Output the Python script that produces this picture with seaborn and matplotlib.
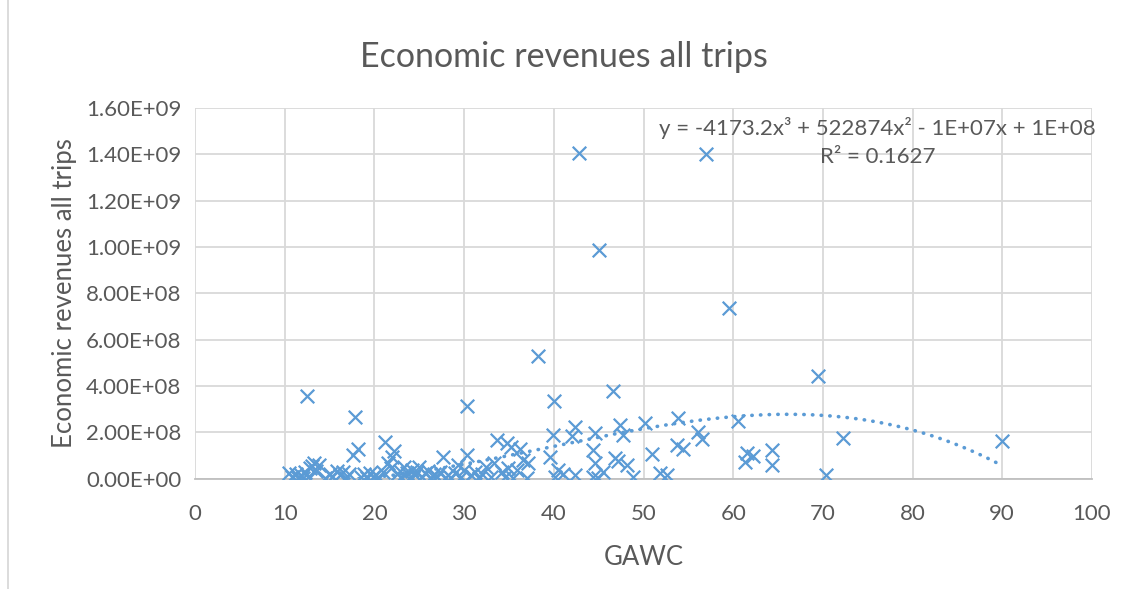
import numpy as np
import pandas as pd
import seaborn as sns
import matplotlib.pyplot as plt
from matplotlib.ticker import FuncFormatter, MultipleLocator
from matplotlib.lines import Line2D

# scatter points (GAWC, revenues)
gawc = [10.5, 10.8, 11.2, 11.5, 11.8, 12.0, 12.3, 12.5, 12.6, 12.8, 13.0, 13.2, 13.5, 13.8,
        14.5, 15.0, 15.3, 15.8, 16.2, 16.5, 16.8, 17.2, 17.6, 17.8, 18.2, 18.5, 18.8, 19.2,
        19.5, 19.8, 20.2, 20.5, 21.0, 21.2, 21.5, 21.8, 22.0, 22.2, 22.5, 22.8, 23.0, 23.3,
        23.6, 23.9, 24.2, 24.5, 24.7, 25.0, 25.3, 25.6, 26.0, 26.3, 26.6, 27.0, 27.3, 27.6,
        27.9, 28.2, 28.5, 29.0, 29.3, 29.6, 30.0, 30.3, 30.3, 30.8, 31.2, 31.6, 32.0, 32.4,
        33.0, 33.3, 33.7, 34.2, 34.6, 34.9, 34.8, 35.2, 35.5, 35.9, 36.2, 36.6, 37.0, 37.1,
        38.2, 39.6, 39.9, 40.0, 40.1, 40.5, 41.0, 42.0, 42.4, 42.4, 42.8, 44.4, 44.4, 44.6,
        44.6, 44.9, 45.0, 45.5, 46.6, 46.8, 47.2, 47.4, 47.7, 48.2, 48.8, 50.2, 51.0, 51.8,
        52.6, 53.7, 53.8, 54.4, 56.1, 56.5, 57.0, 59.5, 60.5, 61.3, 61.5, 62.2, 64.3, 64.3,
        69.5, 70.3, 72.2, 90.0]
revenue = [0.25e8, 0.10e8, 0.20e8, 0.05e8, 0.15e8, 0.02e8, 0.30e8, 3.58e8, 0.10e8, 0.47e8,
           0.55e8, 0.69e8, 0.35e8, 0.60e8, 0.05e8, 0.20e8, 0.10e8, 0.35e8, 0.15e8, 0.30e8,
           0.05e8, 0.20e8, 1.03e8, 2.65e8, 1.30e8, 0.10e8, 0.20e8, 0.05e8, 0.25e8, 0.10e8,
           0.15e8, 0.05e8, 0.30e8, 1.58e8, 0.70e8, 0.45e8, 0.95e8, 1.20e8, 0.20e8, 0.35e8,
           0.10e8, 0.50e8, 0.25e8, 0.05e8, 0.40e8, 0.15e8, 0.30e8, 0.50e8, 0.10e8, 0.25e8,
           0.35e8, 0.05e8, 0.20e8, 0.10e8, 0.30e8, 0.95e8, 0.05e8, 0.15e8, 0.02e8, 0.25e8,
           0.60e8, 0.10e8, 0.40e8, 1.05e8, 3.12e8, 0.15e8, 0.30e8, 0.05e8, 0.20e8, 0.50e8,
           0.10e8, 0.70e8, 1.68e8, 0.30e8, 0.10e8, 0.47e8, 1.55e8, 1.38e8, 0.02e8, 0.40e8,
           1.28e8, 0.80e8, 0.04e8, 0.69e8, 5.30e8, 0.95e8, 1.90e8, 3.35e8, 0.10e8, 0.40e8,
           0.20e8, 1.85e8, 2.25e8, 0.15e8, 14.05e8, 0.10e8, 1.25e8, 1.98e8, 0.69e8, 0.05e8,
           9.85e8, 0.30e8, 3.78e8, 0.90e8, 0.75e8, 2.33e8, 1.90e8, 0.60e8, 0.10e8, 2.40e8,
           1.08e8, 0.26e8, 0.17e8, 1.46e8, 2.63e8, 1.28e8, 2.00e8, 1.70e8, 14.00e8, 7.35e8,
           2.48e8, 0.73e8, 1.12e8, 0.99e8, 1.25e8, 0.60e8, 4.45e8, 0.17e8, 1.75e8, 1.65e8]

# points read along the dotted polynomial trendline
trend_x = [29.5, 31.8, 37.1, 44.1, 49.7, 60.5, 67.1, 80.1, 89.8]
trend_y = [0.55e8, 0.82e8, 1.16e8, 1.77e8, 2.11e8, 2.67e8, 2.80e8, 2.11e8, 0.60e8]

equation = "y = -4173.2x³ + 522874x² - 1E+07x + 1E+08"
r2_text = "R² = 0.1627"

blue = "#5B9BD5"
grey_text = "#595959"

sns.set_theme(style="white")
plt.rcParams['font.family'] = ['Lato', 'DejaVu Sans']

df = pd.DataFrame({"GAWC": gawc, "Economic revenues all trips": revenue})

fig = plt.figure(figsize=(11.28, 5.89), dpi=100)
ax = fig.add_axes([0.173, 0.187, 0.795, 0.630])

sns.scatterplot(data=df, x="GAWC", y="Economic revenues all trips", marker="x",
                color=blue, s=95, linewidth=1.6, ax=ax, zorder=3)

# cubic trendline through the readouts
coef = np.polyfit(trend_x, trend_y, 3)
xs = np.linspace(min(gawc), max(gawc), 300)
ys = np.polyval(coef, xs)
ax.plot(xs, ys, color=blue, lw=2.6, linestyle=(0, (0.1, 2.3)),
        dash_capstyle="round", zorder=2)

ax.set_xlim(0, 100)
ax.set_ylim(0, 1.6e9)
ax.xaxis.set_major_locator(MultipleLocator(10))
ax.yaxis.set_major_locator(MultipleLocator(2e8))
ax.yaxis.set_major_formatter(FuncFormatter(lambda v, p: f"{v:.2E}"))

ax.grid(True, color="#D9D9D9", lw=1.3)
ax.set_axisbelow(True)
for side in ["top", "right", "left"]:
    ax.spines[side].set_visible(False)
ax.spines["bottom"].set_color("#BFBFBF")
ax.spines["bottom"].set_linewidth(1.3)

ax.tick_params(axis="y", labelsize=16, colors=grey_text, length=0, pad=10)
ax.tick_params(axis="x", labelsize=16, colors=grey_text, length=0, pad=18)
ax.set_xlabel("GAWC", fontsize=18.5, color=grey_text, labelpad=15)
ax.set_ylabel("Economic revenues all trips", fontsize=18.5, color=grey_text, labelpad=6)

fig.text(0.5, 0.903, "Economic revenues all trips", ha="center", va="center",
         fontsize=24.5, color=grey_text)

ax.text(0.761, 0.946, equation, transform=ax.transAxes, ha="center", va="center",
        fontsize=16, color=grey_text)
ax.text(0.761, 0.868, r2_text, transform=ax.transAxes, ha="center", va="center",
        fontsize=16, color=grey_text)

# chart frame line on the left
fig.add_artist(Line2D([0.007, 0.007], [0.0, 1.0], transform=fig.transFigure,
                      color="#D9D9D9", lw=1.3))

fig.savefig("out.png", dpi=100)
